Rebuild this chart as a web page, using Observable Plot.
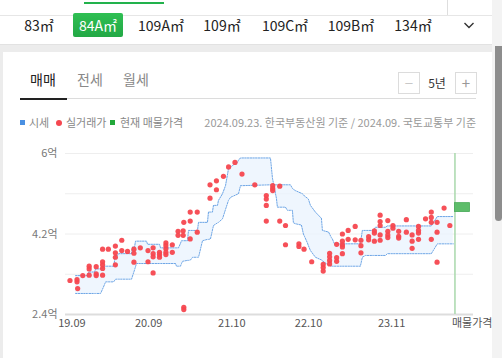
<!DOCTYPE html>
<html><head><meta charset="utf-8">
<script src="https://cdn.jsdelivr.net/npm/d3@7"></script>
<script src="https://cdn.jsdelivr.net/npm/@observablehq/plot@0.6"></script>
<style>
html,body{margin:0;padding:0;background:#fff;}
body{width:502px;height:358px;position:relative;overflow:hidden;font-family:"Noto Sans CJK KR","Noto Sans",sans-serif;}
.a{position:absolute;}
.tab{position:absolute;top:13px;height:24px;line-height:24px;font-size:14px;color:#222;text-align:center;width:60px;white-space:nowrap;}
.tab2{position:absolute;top:68px;height:22px;line-height:22px;font-size:14px;color:#888;text-align:center;width:40px;}
.lg{position:absolute;top:114px;height:16px;line-height:16px;font-size:11px;color:#888;white-space:nowrap;}
.box{position:absolute;top:72px;width:20px;height:20px;border:1px solid #dcdcdc;text-align:center;line-height:19px;font-size:15px;}
</style></head><body>
<!-- top strip -->
<div class="a" style="left:0;top:0;width:492px;height:15px;border-bottom:1px solid #e6e6e6;"></div>
<div class="a" style="left:84px;top:2px;width:80px;height:2px;background:#22b24c;"></div>
<div class="a" style="left:447px;top:0;width:1px;height:15px;background:#dedede;"></div>
<div class="a" style="left:492px;top:0;width:10px;height:358px;background:#f3f3f3;"></div>
<div class="a" style="left:495px;top:46px;width:7px;height:175px;background:#8d8d8d;border-radius:0 0 4px 4px;"></div>
<!-- area tabs -->
<div class="tab" style="left:9px;">83㎡</div>
<div class="a" style="left:73px;top:13px;width:50px;height:24px;border-radius:2px;background:linear-gradient(#2fbf53,#22a845);"></div>
<div class="tab" style="left:68px;color:#fff;">84A㎡</div>
<div class="tab" style="left:131px;">109A㎡</div>
<div class="tab" style="left:192px;">109㎡</div>
<div class="tab" style="left:255px;">109C㎡</div>
<div class="tab" style="left:321px;">109B㎡</div>
<div class="tab" style="left:383px;">134㎡</div>
<svg class="a" style="left:462px;top:19px;" width="14" height="12"><polyline points="2.5,4 7,8.5 11.5,4" fill="none" stroke="#333" stroke-width="1.4"/></svg>
<div class="a" style="left:0;top:44px;width:492px;height:1px;background:#e2e2e2;"></div>
<div class="a" style="left:0;top:45px;width:492px;height:7px;background:#ececec;"></div>
<div class="a" style="left:0;top:45px;width:3px;height:313px;background:#ececec;"></div>
<!-- deal type tabs -->
<div class="tab2" style="left:23px;color:#222;">매매</div>
<div class="tab2" style="left:70px;">전세</div>
<div class="tab2" style="left:116px;">월세</div>
<div class="a" style="left:67px;top:98px;width:409px;height:1px;background:#dcdcdc;"></div>
<div class="a" style="left:20px;top:98px;width:47px;height:2px;background:#222;"></div>
<div class="box" style="left:398px;color:#c8c8c8;">−</div>
<div class="a" style="left:422px;top:72px;width:30px;height:21px;line-height:21px;text-align:center;font-size:12px;color:#333;">5년</div>
<div class="box" style="left:455px;color:#999;">+</div>
<!-- legend -->
<div class="a" style="left:20px;top:120px;width:5px;height:5px;background:#4a90e2;"></div>
<div class="lg" style="left:29px;">시세</div>
<div class="a" style="left:56px;top:119.5px;width:6px;height:6px;border-radius:50%;background:#f5474f;"></div>
<div class="lg" style="left:66px;">실거래가</div>
<div class="a" style="left:110px;top:120px;width:5px;height:5px;background:#22a83a;"></div>
<div class="lg" style="left:120px;">현재 매물가격</div>
<div class="lg" style="right:26px;color:#999;">2024.09.23. 한국부동산원 기준 / 2024.09. 국토교통부 기준</div>
<div id="chart" class="a" style="left:0;top:140px;"></div>
<script>
// x values: months since 2019.09 ; y values: 억 원
const dealMonths = [-0.3,0.8,0.8,0.9,1.7,2.7,2.7,2.7,3.8,3.8,3.8,4.8,4.8,4.8,4.8,4.8,5.7,6.8,6.8,6.8,6.8,7.8,7.8,8.7,9.7,9.7,9.7,10.7,11.9,11.9,
12.7,12.7,12.7,12.7,13.7,13.7,13.7,14.7,14.7,14.7,14.7,14.7,15.7,15.7,16.6,16.6,17.4,17.4,17.5,17.5,17.5,18.5,18.5,18.5,19.6,19.6,
21.6,21.6,22.6,22.6,23.7,24.5,25.5,26.6,28.6,30.4,30.4,30.4,30.4,31.4,31.4,31.4,32.5,32.5,33.4,33.4,35.5,35.5,36.3,37.5,
39.3,39.3,39.3,40.3,40.3,40.3,40.3,41.4,41.4,41.4,42.3,42.3,42.3,42.3,42.3,43.2,43.2,44.3,44.3,45.2,45.2,45.2,46.4,46.4,
47.3,47.3,47.3,48.2,48.2,48.2,48.2,48.2,49.4,49.4,49.4,49.4,50.2,50.2,51.1,51.1,51.1,52.3,52.3,53.2,53.2,53.2,
54.2,54.2,54.2,54.2,55.3,56.2,56.2,56.2,56.2,57.1,57.1,57.1,58.2,59.1];
const dealPrices = [3.16,3.18,3.13,2.98,3.27,3.28,3.42,3.48,3.47,3.31,3.27,3.28,3.43,3.51,3.58,3.86,3.86,3.93,3.78,3.68,3.51,4.06,3.83,3.81,3.86,3.77,3.57,3.89,3.83,3.58,
3.89,3.76,3.69,3.33,3.79,3.74,3.68,4.00,3.94,3.87,3.79,3.74,3.96,3.79,4.26,4.17,4.27,4.17,4.46,2.56,2.51,4.69,4.49,4.09,4.69,4.24,
5.30,5.00,5.39,5.19,5.49,5.70,5.80,5.54,5.30,5.06,4.98,4.84,4.49,5.28,5.22,5.17,5.27,4.49,4.39,3.96,3.98,3.92,3.86,3.58,
3.52,3.45,3.37,3.77,3.69,3.61,3.53,3.97,3.67,3.59,4.20,4.04,3.96,3.91,3.76,4.28,4.08,4.37,4.07,4.06,3.94,3.78,4.14,4.07,
4.27,4.22,4.04,4.62,4.48,4.39,4.18,4.06,4.50,4.26,4.18,4.12,4.39,4.33,4.26,4.15,4.11,4.52,4.24,4.18,4.04,3.88,
4.37,4.28,4.22,4.08,4.54,4.69,4.57,4.46,4.08,4.46,4.24,3.57,4.78,4.39];

// 시세 band: two edges (upper/lower price of KB-type market price)
const bandMonths = [0.58,2.45,2.61,3.55,3.70,4.48,4.80,4.95,5.27,6.52,6.83,7.14,7.30,9.33,9.48,9.80,9.95,10.11,11.67,11.83,13.70,13.86,16.20,16.36,16.67,16.98,17.14,17.30,18.08,18.23,18.55,18.86,19.64,19.80,20.42,21.20,21.36,21.67,21.98,22.14,22.77,22.92,23.55,24.02,24.48,24.80,25.11,25.89,26.05,26.36,31.05,31.36,31.98,32.14,33.39,33.70,34.17,34.48,34.64,34.95,35.89,36.05,36.20,36.36,36.83,36.98,37.30,38.08,39.02,39.17,39.95,40.11,40.58,40.73,41.05,45.11,45.42,45.89,47.14,47.45,49.02,49.33,56.20,57.14,59.64];
const bandA = [3.27,3.27,3.35,3.35,3.42,3.42,3.42,3.48,3.48,3.48,3.72,3.72,3.76,3.76,3.91,3.91,4.04,4.04,4.04,3.97,3.97,3.89,3.89,3.89,3.89,3.99,4.05,4.05,4.05,4.28,4.28,4.28,4.28,4.46,4.46,4.46,4.69,4.69,4.69,4.84,4.84,4.95,5.10,5.28,5.65,5.69,5.73,5.80,5.85,5.90,5.90,5.45,5.00,4.80,4.80,4.73,4.73,4.73,4.45,4.43,4.40,4.30,4.20,4.15,4.00,3.94,3.83,3.68,3.62,3.60,3.52,3.51,3.48,3.48,3.48,3.48,3.68,3.72,3.72,3.72,3.72,3.76,3.76,3.98,3.98];
const bandB = [2.87,2.87,2.87,2.87,2.87,2.87,2.97,3.02,3.13,3.13,3.19,3.19,3.19,3.19,3.26,3.40,3.47,3.54,3.54,3.54,3.54,3.54,3.54,3.48,3.48,3.48,3.54,3.59,3.61,3.61,3.62,3.68,3.68,3.68,4.05,4.08,4.08,4.09,4.29,4.39,4.45,4.46,4.54,4.75,4.95,5.02,5.04,5.09,5.10,5.28,5.30,5.30,5.30,5.30,5.30,5.30,5.30,5.22,5.20,5.17,5.11,5.10,5.08,5.05,5.00,4.98,4.84,4.69,4.55,4.28,4.25,4.25,4.12,4.09,3.98,3.98,4.28,4.28,4.28,4.35,4.35,4.38,4.38,4.59,4.59];

const currentMonth = 59.9;            // 현재 매물가격 column
const currentPriceRange = [4.69, 4.89];

const xTickMonths = [0, 12, 25, 37, 50];
const xTickLabels = ["19.09", "20.09", "21.10", "22.10", "23.11"];
const yTicks = [6, 4.2, 2.4];
const yTickLabels = ["6억", "4.2억", "2.4억"];
const yGrid = [6, 5.1, 4.2, 3.3];

const deals = dealMonths.map((m, i) => ({m, p: dealPrices[i]}));
const band = bandMonths.map((m, i) => ({m, a: bandA[i], b: bandB[i]}));

const chart = Plot.plot({
  width: 502, height: 218,
  marginLeft: 65, marginRight: 29, marginTop: 13, marginBottom: 44,
  style: {fontFamily: '"Noto Sans CJK KR","Noto Sans",sans-serif', fontSize: "11px", background: "transparent", overflow: "visible"},
  x: {type: "linear", domain: [-1, 62.8], axis: null},
  y: {domain: [2.4, 6], axis: null},
  marks: [
    Plot.ruleY(yGrid, {stroke: "#eeeeee", strokeWidth: 1}),
    Plot.areaY(band, {x: "m", y1: "a", y2: "b", fill: "#e9f3fd", fillOpacity: 0.75}),
    Plot.line(band, {x: "m", y: "a", stroke: "#6ea6e6", strokeWidth: 1, strokeDasharray: "1.5,1.2"}),
    Plot.line(band, {x: "m", y: "b", stroke: "#6ea6e6", strokeWidth: 1, strokeDasharray: "1.5,1.2"}),
    Plot.ruleY([2.4], {stroke: "#dddddd", strokeWidth: 2}),
    Plot.ruleX([currentMonth], {stroke: "#a9d8ab", strokeWidth: 1.5}),
    Plot.rect([currentPriceRange], {x1: currentMonth, x2: currentMonth + 2.35, y1: d => d[0], y2: d => d[1], fill: "#5dbd6a", stroke: "#48a957", strokeWidth: 0.8}),
    Plot.dot(deals, {x: "m", y: "p", r: 2.6, fill: "#f5474f", fillOpacity: 0.95}),
    Plot.text(xTickMonths, {x: d => d, frameAnchor: "bottom", dy: 12, text: (d, i) => xTickLabels[i], fill: "#555"}),
    Plot.text([currentMonth], {x: d => d, frameAnchor: "bottom", dy: 12, dx: -3, textAnchor: "start", text: () => "매물가격", fill: "#555"}),
    Plot.text(yTicks, {y: d => d, frameAnchor: "left", textAnchor: "end", dx: -8, text: (d, i) => yTickLabels[i], fill: "#777"})
  ]
});
document.getElementById("chart").appendChild(chart);
</script>
</body></html>
